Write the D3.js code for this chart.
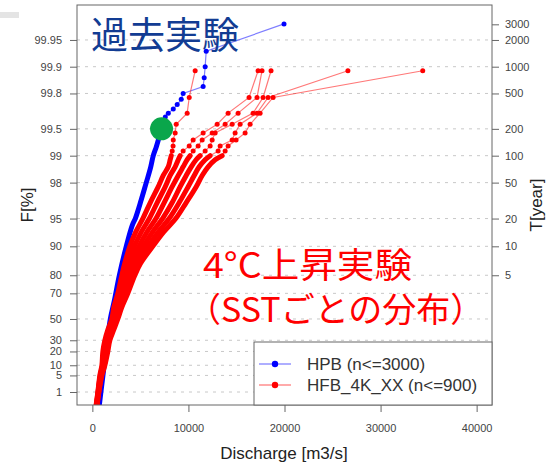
<!DOCTYPE html>
<html>
<head>
<meta charset="utf-8">
<title>Discharge frequency (Gumbel plot)</title>
<script src="https://cdn.jsdelivr.net/npm/d3@7"></script>
<style>
  body { margin: 0; background: #fff; }
  svg text { font-family: "Liberation Sans", Arial, sans-serif; }
  svg .jp { font-family: "Noto Sans CJK JP", sans-serif; }
</style>
</head>
<body>
<svg id="chart" width="554" height="466"></svg>
<script>
// tick labels
const leftTicks = [1, 5, 10, 20, 30, 50, 70, 80, 90, 95, 98, 99, 99.5, 99.8, 99.9, 99.95];
const rightTicks = [5, 10, 20, 50, 100, 200, 500, 1000, 2000, 3000];
const xTicks = [0, 10000, 20000, 30000, 40000];

// HPB (n<=3000): non-exceedance probability F[%] and discharge [m3/s]
const hpbF = [99.967, 99.933, 99.900, 99.867, 99.833, 99.800, 99.767, 99.733, 99.700, 99.667,
  99.633, 99.5, 99.33, 99.2, 99.0, 98.6, 98.0, 96.9, 95.0, 94.1, 90.0, 80.0, 65.0, 50.0, 30.0, 3.4, 0.033];
const hpbQ = [19950, 11850, 11740, 11640, 11530, 9450, 9250, 8830, 8420, 7900,
  7590, 7170, 6860, 6650, 6340, 6030, 5610, 5090, 4470, 4160, 3530, 2810, 2290, 1870, 1560, 1040, 620];

// HFB_4K_XX (n<=900): shared plotting positions F[%], one discharge list per SST pattern
const hfbF = [99.889, 99.778, 99.667, 99.556, 99.445, 99.334, 99.223, 99.112, 99.001, 98.890,
  98.668, 98.335, 97.780, 96.670, 95.0, 93.0, 90.0, 85.0, 80.0, 70.0, 60.0, 50.0, 40.0, 30.0,
  20.0, 10.0, 5.0, 1.0, 0.11];
const hfbQ1 = [10700, 10080, 9870, 8730, 8620, 8420, 8400, 8310, 8210, 8100, 7900, 7380, 6860, 6030,
  5250, 4520, 3900, 3380, 3070, 2650, 2230, 2030, 1610, 1300, 1090, 990, 780, 570, 360];
const hfbQ2 = [17250, 16310, 14130, 12990, 11530, 10490, 10080, 9450, 9140, 8940, 8620, 8100, 7590, 6750,
  5930, 5100, 4370, 3710, 3340, 2860, 2400, 2150, 1740, 1400, 1200, 1050, 820, 590, 380];
const hfbQ3 = [17660, 17140, 15170, 13820, 12470, 11430, 11010, 10490, 10180, 9870, 9450, 8940, 8310, 7480,
  6620, 5680, 4850, 4040, 3600, 3070, 2570, 2280, 1860, 1510, 1300, 1110, 860, 610, 410];
const hfbQ4 = [18600, 17770, 16730, 14550, 12780, 12470, 12260, 11740, 11220, 10800, 10290, 9770, 9140, 8310,
  7300, 6270, 5330, 4370, 3880, 3270, 2730, 2400, 1980, 1610, 1400, 1170, 900, 630, 430];
const hfbQ5 = [26600, 18290, 17140, 15380, 14860, 14550, 13300, 13090, 12260, 11740, 11120, 10600, 9970, 9040,
  7990, 6850, 5810, 4710, 4150, 3480, 2900, 2520, 2110, 1710, 1510, 1240, 950, 660, 450];
const hfbQ6 = [34390, 18810, 17460, 16420, 15900, 14960, 14130, 13820, 13510, 12780, 12050, 11430, 10810, 9770,
  8680, 7430, 6290, 5040, 4420, 3690, 3070, 2650, 2230, 1820, 1610, 1300, 990, 680, 470];

// marked point (green circle)
const markQ = 7200, markF = 99.5;

const svg = d3.select('#chart');
const plot = { left: 77, right: 492, top: 5, bottom: 405 };

// Gumbel reduced variate
const gum = f => -Math.log(-Math.log(f / 100));
const gumT = t => gum(100 * (1 - 1 / t));

const x = d3.scaleLinear().domain([-1600, 41600]).range([plot.left, plot.right]);
const y = d3.scaleLinear().domain([-1.864, 8.507]).range([plot.bottom, plot.top]);

svg.append('rect').attr('x', 0).attr('y', 12).attr('width', 19).attr('height', 6).attr('fill', '#e4e4e4');

svg.append('clipPath').attr('id', 'clip').append('rect')
  .attr('x', plot.left).attr('y', plot.top)
  .attr('width', plot.right - plot.left).attr('height', plot.bottom - plot.top);

// grid
svg.append('g').selectAll('line')
  .data(leftTicks)
  .enter().append('line')
  .attr('x1', plot.left).attr('x2', plot.right)
  .attr('y1', d => y(gum(d))).attr('y2', d => y(gum(d)))
  .attr('stroke', '#c8c8c8').attr('stroke-dasharray', '3,5');

const data = svg.append('g').attr('clip-path', 'url(#clip)');

// thin line through all points, dense part drawn as a thick band, dots on the sparse tail
function drawSeries(F, Q, color, thin, thr) {
  const pts = F.map((f, i) => [x(Q[i]), y(gum(f))]);
  const g = data.append('g');
  g.append('path').attr('d', d3.line()(pts))
    .attr('fill', 'none').attr('stroke', thin).attr('stroke-width', 1.2);
  g.append('path').attr('d', d3.line().curve(d3.curveCatmullRom.alpha(0.5))(pts.filter((p, i) => F[i] <= thr)))
    .attr('fill', 'none').attr('stroke', color).attr('stroke-width', 5)
    .attr('stroke-linejoin', 'round').attr('stroke-linecap', 'round');
  g.selectAll('circle').data(pts.filter((p, i) => F[i] > thr)).enter().append('circle')
    .attr('cx', d => d[0]).attr('cy', d => d[1]).attr('r', 2.5).attr('fill', color);
}

drawSeries(hpbF, hpbQ, '#0000ff', 'rgba(40,40,255,0.6)', 99.5);
[hfbQ1, hfbQ2, hfbQ3, hfbQ4, hfbQ5, hfbQ6].forEach(q =>
  drawSeries(hfbF, q, '#ff0000', 'rgba(255,30,30,0.6)', 99.01));

// frame
svg.append('rect')
  .attr('x', plot.left).attr('y', plot.top)
  .attr('width', plot.right - plot.left).attr('height', plot.bottom - plot.top)
  .attr('fill', 'none').attr('stroke', '#666');

// axes
const xAxis = svg.append('g').attr('transform', `translate(0,${plot.bottom})`)
  .call(d3.axisBottom(x).tickValues(xTicks).tickFormat(d3.format('d')).tickSize(7).tickPadding(12));
const lAxis = svg.append('g').attr('transform', `translate(${plot.left},0)`)
  .call(d3.axisLeft(y).tickValues(leftTicks.map(gum)).tickFormat((d, i) => leftTicks[i]).tickSize(7).tickPadding(8));
const rAxis = svg.append('g').attr('transform', `translate(${plot.right},0)`)
  .call(d3.axisRight(y).tickValues(rightTicks.map(gumT)).tickFormat((d, i) => rightTicks[i]).tickSize(7).tickPadding(6));
[xAxis, lAxis, rAxis].forEach(a => {
  a.select('.domain').remove();
  a.selectAll('line').attr('stroke', '#666');
  a.selectAll('text').attr('fill', '#444').style('font-size', '11px');
});

svg.append('text').attr('x', 284).attr('y', 459).attr('text-anchor', 'middle')
  .style('font-size', '17px').attr('fill', '#222').text('Discharge [m3/s]');
svg.append('text').attr('transform', 'translate(33,205) rotate(-90)').attr('text-anchor', 'middle')
  .style('font-size', '17px').attr('fill', '#222').text('F[%]');
svg.append('text').attr('transform', 'translate(542,205) rotate(-90)').attr('text-anchor', 'middle')
  .style('font-size', '17px').attr('fill', '#222').text('T[year]');

// green marker
svg.append('circle').attr('cx', x(markQ)).attr('cy', y(gum(markF))).attr('r', 11.5).attr('fill', '#0aa64b');

// legend
const legend = svg.append('g');
legend.append('rect').attr('x', 254).attr('y', 342).attr('width', 238).attr('height', 63)
  .attr('fill', '#fff').attr('stroke', '#666');
const legendItems = [
  { label: 'HPB (n<=3000)', color: '#0000ff', thin: 'rgba(40,40,255,0.5)' },
  { label: 'HFB_4K_XX (n<=900)', color: '#ff0000', thin: 'rgba(255,30,30,0.5)' }
];
legendItems.forEach((d, i) => {
  const ly = 364 + i * 21;
  legend.append('line').attr('x1', 259).attr('x2', 291).attr('y1', ly).attr('y2', ly)
    .attr('stroke', d.thin).attr('stroke-width', 1.5);
  legend.append('circle').attr('cx', 275).attr('cy', ly).attr('r', 3.2).attr('fill', d.color);
  legend.append('text').attr('x', 307).attr('y', ly + 6).style('font-size', '17px')
    .attr('fill', '#333').text(d.label);
});

// annotations
svg.append('text').attr('class', 'jp').attr('x', 91).attr('y', 49)
  .style('font-size', '37px').attr('fill', '#123c93').text('過去実験');
svg.append('text').attr('class', 'jp').attr('x', 203).attr('y', 278)
  .attr('textLength', 209).attr('lengthAdjust', 'spacingAndGlyphs')
  .style('font-size', '35px').attr('fill', '#ff0000').text('4°C上昇実験');
svg.append('text').attr('class', 'jp').attr('x', 187).attr('y', 322)
  .style('font-size', '34px').attr('fill', '#ff0000').text('（SSTごとの分布）');
</script>
</body>
</html>
